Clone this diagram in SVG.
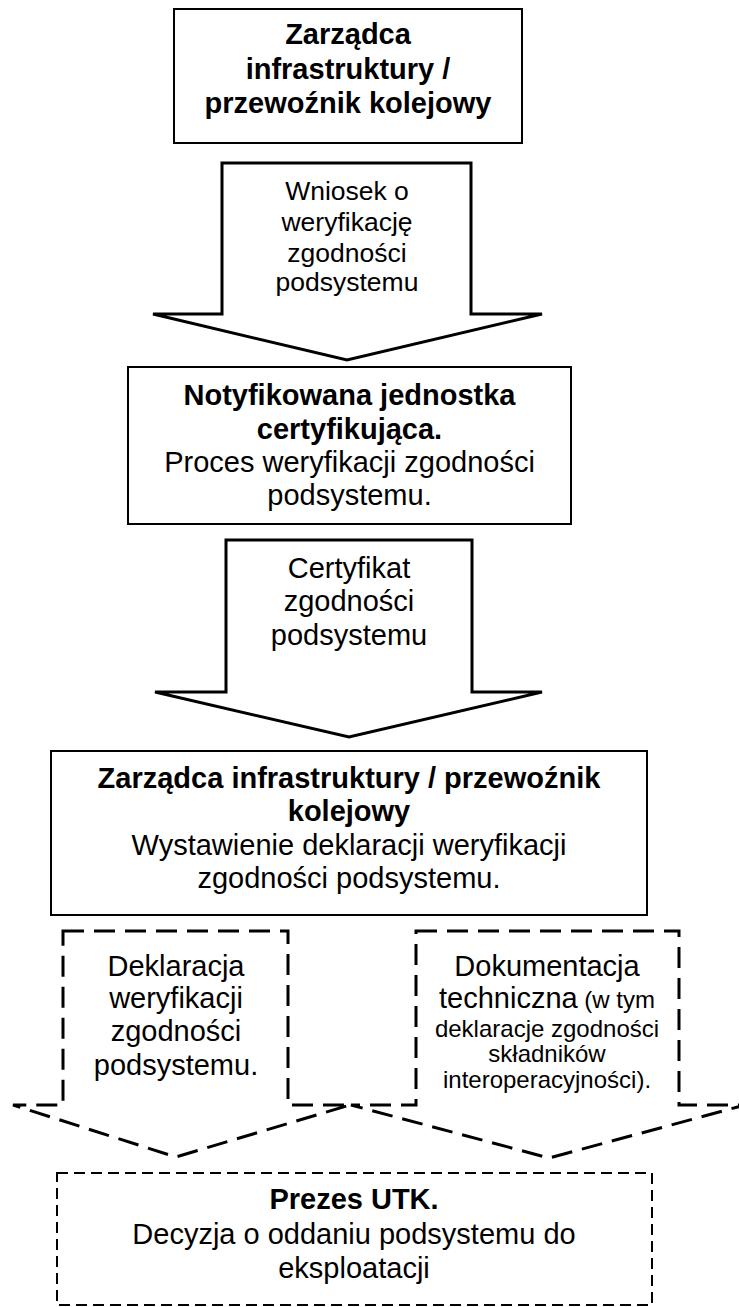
<svg xmlns="http://www.w3.org/2000/svg" width="739" height="1307" viewBox="0 0 739 1307">
<style>
text{font-family:"Liberation Sans",Arial,sans-serif;fill:#000;text-anchor:middle}
.b{font-weight:bold;font-size:29px}
.r{font-size:29px}
.s{font-size:24px}
.a1{font-size:26.5px}
.box{fill:#fff;stroke:#000;stroke-width:2}
.arr{fill:#fff;stroke:#000;stroke-width:3;stroke-linejoin:miter}
.darr{fill:#fff;stroke:#000;stroke-width:3;stroke-dasharray:21 10}
.dbox{fill:#fff;stroke:#000;stroke-width:2;stroke-dasharray:11 6}
</style>
<rect width="739" height="1307" fill="#fff"/>
<g id="connectors">
<g id="arrow1">
<polygon class="arr" points="222,163 471,163 471,314 542,314 347,360 153,314 222,314"/>
<text class="a1" x="347" y="200">Wniosek o</text>
<text class="a1" x="347" y="231">weryfikację</text>
<text class="a1" x="347" y="262">zgodności</text>
<text class="a1" x="347" y="291">podsystemu</text>
</g>
<g id="arrow2">
<polygon class="arr" points="226,540 472,540 472,692 542,692 349,737 155,692 226,692"/>
<text class="r" x="349" y="578">Certyfikat</text>
<text class="r" x="349" y="611">zgodności</text>
<text class="r" x="349" y="645">podsystemu</text>
</g>
<g id="arrow3">
<polygon class="darr" points="63,931 288,931 288,1105 350,1105 176,1157 13,1105 63,1105"/>
<text class="r" x="176" y="976">Deklaracja</text>
<text class="r" x="176" y="1008">weryfikacji</text>
<text class="r" x="176" y="1041">zgodności</text>
<text class="r" x="176" y="1075">podsystemu.</text>
</g>
<g id="arrow4">
<polygon class="darr" points="416,931 679,931 679,1105 745,1105 549,1158 351,1105 416,1105"/>
<text class="r" x="547" y="976">Dokumentacja</text>
<text class="r" x="547" y="1008">techniczna<tspan class="s"> (w tym</tspan></text>
<text class="s" x="547" y="1037">deklaracje zgodności</text>
<text class="s" x="547" y="1062">składników</text>
<text class="s" x="547" y="1088">interoperacyjności).</text>
</g>
</g>
<g id="node1">
<rect class="box" x="174" y="9" width="348" height="134"/>
<text class="b" x="348" y="44">Zarządca</text>
<text class="b" x="348" y="79">infrastruktury /</text>
<text class="b" x="348" y="113">przewoźnik kolejowy</text>
</g>
<g id="node2">
<rect class="box" x="128" y="367" width="443" height="157"/>
<text class="b" x="349.5" y="405">Notyfikowana jednostka</text>
<text class="b" x="349.5" y="439">certyfikująca.</text>
<text class="r" x="349.5" y="472">Proces weryfikacji zgodności</text>
<text class="r" x="349.5" y="505">podsystemu.</text>
</g>
<g id="node3">
<rect class="box" x="51" y="751" width="596" height="164"/>
<text class="b" x="349" y="788">Zarządca infrastruktury / przewoźnik</text>
<text class="b" x="349" y="821">kolejowy</text>
<text class="r" x="349" y="855">Wystawienie deklaracji weryfikacji</text>
<text class="r" x="349" y="888">zgodności podsystemu.</text>
</g>
<g id="node4">
<rect class="dbox" x="57" y="1173" width="595" height="132"/>
<text class="b" x="354" y="1209">Prezes UTK.</text>
<text class="r" x="354" y="1244">Decyzja o oddaniu podsystemu do</text>
<text class="r" x="354" y="1278">eksploatacji</text>
</g>
</svg>
